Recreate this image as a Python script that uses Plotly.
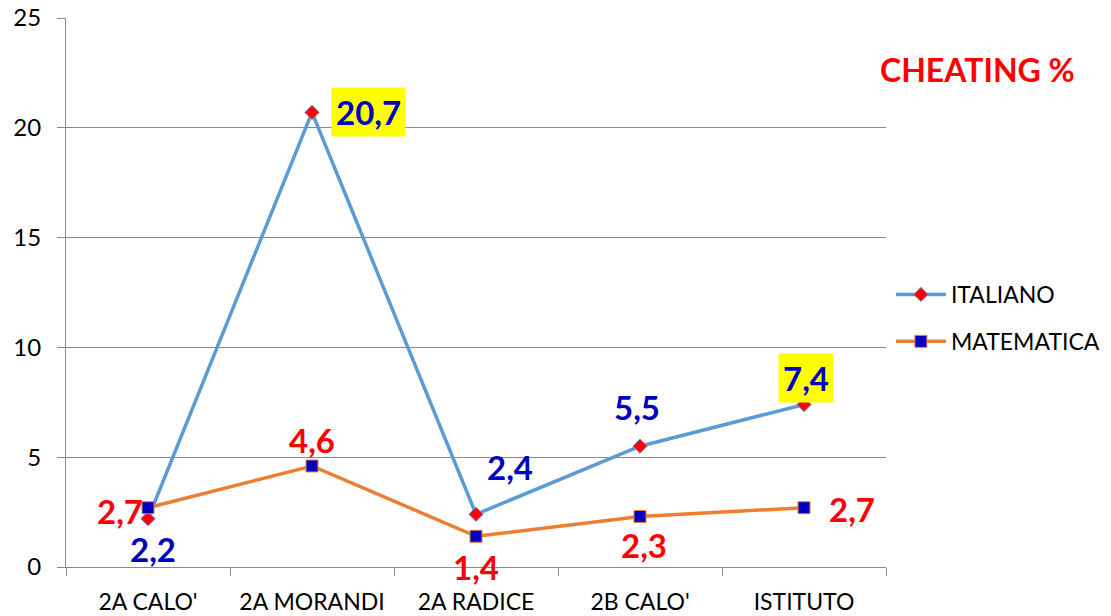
import plotly.graph_objects as go

categories = ["2A CALO'", "2A MORANDI", "2A RADICE", "2B CALO'", "ISTITUTO"]
italiano = [2.2, 20.7, 2.4, 5.5, 7.4]
matematica = [2.7, 4.6, 1.4, 2.3, 2.7]
ital_labels = ["2,2", "20,7", "2,4", "5,5", "7,4"]
mat_labels = ["2,7", "4,6", "1,4", "2,3", "2,7"]
y_ticks = [0, 5, 10, 15, 20, 25]

FONT = "Lato, 'Open Sans', sans-serif"

# plot area in window: x 66..886, y 18..567 (page body margin removed below)
L, R, T, B = 66, 886, 18, 567
W, H = 1111, 616

fig = go.Figure()
fig.add_trace(go.Scatter(
    x=categories, y=italiano, name="ITALIANO", mode="lines+markers",
    legendgroup="a",
    line=dict(color="#5B9BD5", width=3.5),
    marker=dict(symbol="diamond", size=11, color="#FF0000",
                line=dict(color="#5B9BD5", width=1)),
))
fig.add_trace(go.Scatter(
    x=categories, y=matematica, name="MATEMATICA", mode="lines+markers",
    legendgroup="b",
    line=dict(color="#ED7D31", width=3.5),
    marker=dict(symbol="square", size=12, color="#0000C0",
                line=dict(color="#ED7D31", width=1)),
))

# label offsets (pixels) relative to each point
ital_off = [(5, -30), (56, 0), (34, 47), (-3, 39), (2, 27)]
ital_bg = [None, "#FFFF00", None, None, "#FFFF00"]
mat_off = [(-28, -3), (0, 26), (0, -31), (4, -29), (48, -1)]

for i, c in enumerate(categories):
    dx, dy = ital_off[i]
    fig.add_annotation(
        x=c, y=italiano[i], xref="x", yref="y", text="<b>%s</b>" % ital_labels[i],
        showarrow=False, xshift=dx, yshift=dy,
        font=dict(family=FONT, size=33, color="#0000C0"),
        bgcolor=ital_bg[i] if ital_bg[i] else "rgba(0,0,0,0)",
        borderpad=4,
    )
    dx, dy = mat_off[i]
    fig.add_annotation(
        x=c, y=matematica[i], xref="x", yref="y", text="<b>%s</b>" % mat_labels[i],
        showarrow=False, xshift=dx, yshift=dy,
        font=dict(family=FONT, size=33, color="#FF0000"),
        bgcolor="rgba(0,0,0,0)",
    )

fig.add_annotation(
    x=(977 - L) / (R - L), y=1 - (69 - T) / (B - T),
    xref="paper", yref="paper", text="<b>CHEATING %</b>",
    showarrow=False, xanchor="center", yanchor="middle",
    font=dict(family=FONT, size=32, color="#FF0000"),
)

fig.update_layout(
    width=W, height=H,
    margin=dict(l=L, r=W - R, t=T, b=H - B, autoexpand=False),
    paper_bgcolor="white", plot_bgcolor="white",
    font=dict(family=FONT, size=22, color="#000000"),
    showlegend=True,
    legend=dict(
        x=1.006, y=1 - (318 - T) / (B - T), xanchor="left", yanchor="middle",
        font=dict(family=FONT, size=23, color="#000000"),
        bgcolor="rgba(0,0,0,0)", itemwidth=50, tracegroupgap=14,
    ),
    xaxis=dict(
        type="category", range=[-0.5, 4.5], automargin=False,
        showgrid=False, showline=True, linecolor="#888888", linewidth=1,
        ticks="outside", tickson="boundaries", ticklen=8, tickcolor="#888888",
        tickfont=dict(family=FONT, size=23, color="#000000"),
        zeroline=False, ticklabelstandoff=14,
    ),
    yaxis=dict(
        range=[0, 25], tickvals=y_ticks, automargin=False,
        showgrid=True, gridcolor="#888888", gridwidth=1,
        showline=True, linecolor="#888888", linewidth=1,
        ticks="outside", ticklen=8, tickcolor="#888888",
        tickfont=dict(family=FONT, size=24, color="#000000"),
        zeroline=False, ticklabelstandoff=11, ticklabeloverflow="allow",
    ),
)

fig.write_html(
    "out.html",
    config={"displayModeBar": False},
    post_script="document.body.style.margin='0';",
)
